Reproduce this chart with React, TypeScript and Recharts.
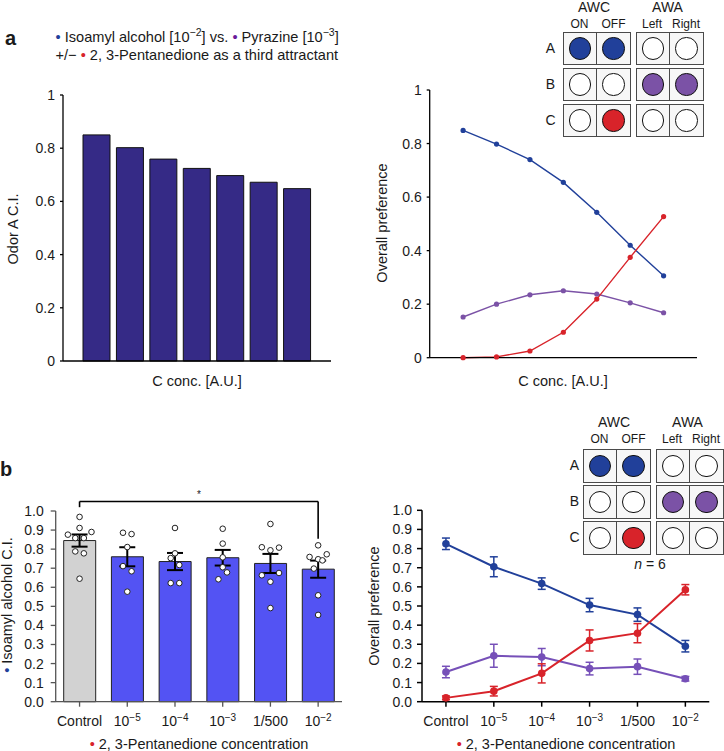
import {
  Bar,
  BarChart,
  ComposedChart,
  ErrorBar,
  Line,
  LineChart,
  ReferenceLine,
  Scatter,
  XAxis,
  YAxis,
} from "recharts";

const FONT = "'Liberation Sans', Arial, sans-serif";
const INK = "#1a1a1a";
const BLUE = "#21409a";
const PURPLE = "#7b52a6";
const RED = "#d8232a";

// panel a
const concSteps = ["1", "2", "3", "4", "5", "6", "7"];
const odorACI = [0.85, 0.802, 0.759, 0.724, 0.697, 0.672, 0.648];
const prefBlueA = [0.849, 0.798, 0.74, 0.655, 0.543, 0.42, 0.306];
const prefPurpleA = [0.152, 0.2, 0.235, 0.25, 0.238, 0.205, 0.168];
const prefRedA = [0, 0.003, 0.025, 0.095, 0.219, 0.375, 0.527];
const ticksA = [0, 0.2, 0.4, 0.6, 0.8, 1];

// panel b
const concLabels = ["Control", "10^−5", "10^−4", "10^−3", "1/500", "10^−2"];
const concIndex = [0, 1, 2, 3, 4, 5];
const isoamylMean = [0.845, 0.76, 0.735, 0.755, 0.725, 0.695];
const isoamylErr = [0.032, 0.05, 0.045, 0.041, 0.05, 0.045];
const ticksB = [0, 0.1, 0.2, 0.3, 0.4, 0.5, 0.6, 0.7, 0.8, 0.9, 1];
// [category + jitter, C.I.] for each animal group
const rawPoints = [
  [0, 0.969], [0, 0.911], [-0.245, 0.876], [0.25, 0.89], [-0.09, 0.858],
  [0.09, 0.858], [-0.09, 0.788], [0.09, 0.778], [0, 0.645],
  [0.91, 0.886], [1.09, 0.879], [1, 0.811], [0.91, 0.711], [1.09, 0.684], [1, 0.577],
  [2, 0.911], [2, 0.778], [1.91, 0.753], [2.09, 0.717], [1.91, 0.622], [2.09, 0.622],
  [3, 0.907], [3, 0.829], [3, 0.757], [3, 0.705], [3.09, 0.678], [2.91, 0.642],
  [4, 0.932], [3.82, 0.81], [4, 0.794], [4.18, 0.808], [3.82, 0.663],
  [4.18, 0.675], [4, 0.629], [4, 0.491],
  [5, 0.82], [4.82, 0.759], [5, 0.747], [5.09, 0.741], [5.18, 0.773],
  [4.91, 0.698], [5, 0.558], [5, 0.455],
];
const prefBlueB = [0.825, 0.705, 0.617, 0.505, 0.455, 0.29];
const prefBlueErr = [0.03, 0.052, 0.03, 0.035, 0.035, 0.03];
const prefPurpleB = [0.155, 0.24, 0.233, 0.173, 0.183, 0.12];
const prefPurpleErr = [0.03, 0.06, 0.045, 0.033, 0.04, 0.012];
const prefRedB = [0.02, 0.055, 0.148, 0.32, 0.358, 0.585];
const prefRedErr = [0.01, 0.025, 0.05, 0.055, 0.05, 0.027];

// schematic
const insetRows = ["A", "B", "C"];
const insetFill = [
  [BLUE, BLUE, "#fff", "#fff"],
  ["#fff", "#fff", PURPLE, PURPLE],
  ["#fff", RED, "#fff", "#fff"],
];

const barsA = concSteps.map((c, i) => ({ c, v: odorACI[i] }));
const linesA = concSteps.map((c, i) => ({
  c,
  blue: prefBlueA[i],
  purple: prefPurpleA[i],
  red: prefRedA[i],
}));
const barsB = concIndex.map((x, i) => ({
  x,
  mean: isoamylMean[i],
  err: isoamylErr[i],
  fill: i === 0 ? "#d2d2d2" : "#5353f3",
}));
const pointsB = rawPoints.map(([x, y]) => ({ x, y }));
const linesB = concIndex.map((x, i) => ({
  x,
  blue: prefBlueB[i],
  blueErr: prefBlueErr[i],
  purple: prefPurpleB[i],
  purpleErr: prefPurpleErr[i],
  red: prefRedB[i],
  redErr: prefRedErr[i],
}));

function ConcTick({ x, y, payload }: any) {
  const [base, exp] = concLabels[payload.value].split("^");
  return (
    <text x={x} y={y + 16} textAnchor="middle" fontSize={14} fill={INK}>
      {base}
      {exp && (
        <tspan dy={-5} fontSize={10}>
          {exp}
        </tspan>
      )}
    </text>
  );
}

function Dot({ cx, cy }: any) {
  return <circle cx={cx} cy={cy} r={2.8} fill="#fff" stroke="#222" strokeWidth={1} />;
}

function NoDot() {
  return <g />;
}

function ConcLabel({ x }: { x: number }) {
  return (
    <text x={x} y={279} textAnchor="middle" fontSize={14.5} fill={INK}>
      <tspan fill={RED}>• </tspan>2, 3-Pentanedione concentration
    </text>
  );
}

function Inset({
  left,
  top,
  labelTop,
  rowLabelX,
}: {
  left: number;
  top: number;
  labelTop: number;
  rowLabelX: number;
}) {
  const cell = (fill: string, key: number) => (
    <div
      key={key}
      style={{
        boxSizing: "border-box",
        width: 34.5,
        height: 33.5,
        marginLeft: key % 2 ? -1 : 0,
        background: "#f7f7f7",
        border: "1.2px solid #4a4a4a",
        display: "flex",
        alignItems: "center",
        justifyContent: "center",
      }}
    >
      <div
        style={{
          boxSizing: "border-box",
          width: 22.5,
          height: 22.5,
          borderRadius: "50%",
          background: fill,
          border: "1px solid #111",
        }}
      />
    </div>
  );
  const head = (text: string, x: number, y: number, size: number) => (
    <div
      style={{
        position: "absolute",
        left: x - 30,
        top: y,
        width: 60,
        textAlign: "center",
        fontSize: size,
        lineHeight: "14px",
        color: INK,
      }}
    >
      {text}
    </div>
  );
  return (
    <div style={{ position: "absolute", left, top }}>
      {head("AWC", 31.5, labelTop, 14)}
      {head("AWA", 105, labelTop, 14)}
      {head("ON", 17, labelTop + 17, 12)}
      {head("OFF", 51, labelTop + 17, 12)}
      {head("Left", 89.5, labelTop + 17, 12)}
      {head("Right", 123.5, labelTop + 17, 12)}
      {insetRows.map((row, r) => (
        <div key={row} style={{ position: "absolute", left: 0, top: r * 36, display: "flex" }}>
          <div
            style={{
              position: "absolute",
              left: rowLabelX - 8,
              width: 16,
              top: 8,
              textAlign: "center",
              fontSize: 14,
              lineHeight: "16px",
              color: INK,
            }}
          >
            {row}
          </div>
          {cell(insetFill[r][0], 0)}
          {cell(insetFill[r][1], 1)}
          <div style={{ width: 5 }} />
          {cell(insetFill[r][2], 2)}
          {cell(insetFill[r][3], 3)}
        </div>
      ))}
    </div>
  );
}

const box = (left: number, top: number) => ({ position: "absolute" as const, left, top });

export default function App() {
  return (
    <div
      style={{
        position: "absolute",
        left: 0,
        top: 0,
        width: 724,
        height: 751,
        overflow: "hidden",
        background: "#fff",
        fontFamily: FONT,
        color: INK,
      }}
    >
      <div style={{ ...box(5, 27), fontSize: 20, fontWeight: 700 }}>a</div>
      <div style={{ ...box(0, 458), fontSize: 20, fontWeight: 700 }}>b</div>
      <div style={{ ...box(55.5, 28), fontSize: 14.6, lineHeight: "18px", whiteSpace: "nowrap" }}>
        <div>
          <span style={{ color: BLUE }}>• </span>Isoamyl alcohol [10
          <sup style={{ fontSize: 10.5, lineHeight: 0 }}>−2</sup>] vs.{" "}
          <span style={{ color: "#6a1b9a" }}>• </span>Pyrazine [10
          <sup style={{ fontSize: 10.5, lineHeight: 0 }}>−3</sup>]
        </div>
        <div>
          +/− <span style={{ color: RED }}>• </span>2, 3-Pentanedione as a third attractant
        </div>
      </div>

      <div style={box(0, 70)}>
        <BarChart
          width={362}
          height={330}
          data={barsA}
          margin={{ top: 25, right: 31, bottom: 0, left: 0 }}
        >
          <XAxis
            dataKey="c"
            tick={false}
            tickLine={false}
            height={39}
            padding={{ left: 17, right: 17 }}
            stroke="#000"
            strokeWidth={1.3}
          />
          <YAxis
            width={63}
            domain={[0, 1]}
            ticks={ticksA}
            interval={0}
            tickSize={3}
            tickMargin={5}
            stroke="#000"
            strokeWidth={1.3}
            tick={{ fontSize: 14, fill: INK }}
          />
          <text x={197} y={316} textAnchor="middle" fontSize={14.5} fill={INK}>
            C conc. [A.U.]
          </text>
          <text
            transform="translate(18 159) rotate(-90)"
            textAnchor="middle"
            fontSize={14.5}
            fill={INK}
          >
            Odor A C.I.
          </text>
          <Bar
            dataKey="v"
            barSize={27}
            fill="#352a86"
            stroke="#111"
            strokeWidth={1}
            isAnimationActive={false}
          />
        </BarChart>
      </div>

      <div style={box(362, 70)}>
        <LineChart
          width={362}
          height={330}
          data={linesA}
          margin={{ top: 20, right: 27, bottom: 0, left: 0 }}
        >
          <XAxis
            dataKey="c"
            tick={false}
            tickLine={false}
            height={42.3}
            padding={{ left: 33.4, right: 33.4 }}
            stroke="#000"
            strokeWidth={1.3}
          />
          <YAxis
            width={67.7}
            domain={[0, 1]}
            ticks={ticksA}
            interval={0}
            tickSize={3}
            tickMargin={5}
            stroke="#000"
            strokeWidth={1.3}
            tick={{ fontSize: 14, fill: INK }}
          />
          <text x={201} y={316} textAnchor="middle" fontSize={14.5} fill={INK}>
            C conc. [A.U.]
          </text>
          <text
            transform="translate(25 153) rotate(-90)"
            textAnchor="middle"
            fontSize={14.5}
            fill={INK}
          >
            Overall preference
          </text>
          <Line dataKey="blue" stroke={BLUE} strokeWidth={1.4} dot={{ r: 2.6, fill: BLUE, strokeWidth: 0 }} isAnimationActive={false} />
          <Line dataKey="purple" stroke={PURPLE} strokeWidth={1.4} dot={{ r: 2.6, fill: PURPLE, strokeWidth: 0 }} isAnimationActive={false} />
          <Line dataKey="red" stroke={RED} strokeWidth={1.4} dot={{ r: 2.6, fill: RED, strokeWidth: 0 }} isAnimationActive={false} />
        </LineChart>
      </div>

      <div style={box(0, 470)}>
        <ComposedChart
          width={362}
          height={281}
          data={barsB}
          margin={{ top: 41, right: 20, bottom: 0, left: 0 }}
        >
          <XAxis
            dataKey="x"
            ticks={concIndex}
            interval={0}
            height={49.3}
            tickSize={5}
            tickMargin={3}
            stroke="#555"
            strokeWidth={1.3}
            tick={<ConcTick />}
          />
          <XAxis
            xAxisId="jitter"
            dataKey="x"
            type="number"
            domain={[-0.5, 5.5]}
            hide
          />
          <YAxis
            width={55.7}
            domain={[0, 1]}
            ticks={ticksB}
            interval={0}
            tickSize={5}
            tickMargin={7}
            tickFormatter={(v: number) => v.toFixed(1)}
            stroke="#555"
            strokeWidth={1.3}
            tick={{ fontSize: 14, fill: INK }}
          />
          <text
            transform="translate(12 135) rotate(-90)"
            textAnchor="middle"
            fontSize={14.5}
            fill={INK}
          >
            <tspan fill={BLUE}>• </tspan>Isoamyl alcohol C.I.
          </text>
          <text x={199} y={28} textAnchor="middle" fontSize={10} fill={INK}>
            *
          </text>
          <ConcLabel x={199} />
          <ReferenceLine
            xAxisId="jitter"
            segment={[{ x: 0, y: 1.05 }, { x: 5, y: 1.05 }]}
            ifOverflow="visible"
            stroke="#000"
            strokeWidth={1.6}
          />
          <ReferenceLine
            xAxisId="jitter"
            segment={[{ x: 0, y: 1.05 }, { x: 0, y: 1.02 }]}
            ifOverflow="visible"
            stroke="#000"
            strokeWidth={1.6}
          />
          <ReferenceLine
            xAxisId="jitter"
            segment={[{ x: 5, y: 1.05 }, { x: 5, y: 0.855 }]}
            ifOverflow="visible"
            stroke="#000"
            strokeWidth={1.6}
          />
          <Bar
            dataKey="mean"
            barSize={32}
            stroke="#222"
            strokeWidth={1}
            isAnimationActive={false}
          />
          <Scatter
            xAxisId="jitter"
            data={pointsB}
            dataKey="y"
            shape={<Dot />}
            isAnimationActive={false}
          />
          <Scatter dataKey="mean" shape={<NoDot />} isAnimationActive={false}>
            <ErrorBar dataKey="err" direction="y" width={8} stroke="#000" strokeWidth={2} isAnimationActive={false} />
          </Scatter>
        </ComposedChart>
      </div>

      <div style={box(362, 470)}>
        <ComposedChart
          width={362}
          height={281}
          data={linesB}
          margin={{ top: 40.3, right: 14.7, bottom: 0, left: 0 }}
        >
          <XAxis
            dataKey="x"
            type="number"
            domain={[-0.5, 5.5]}
            ticks={concIndex}
            interval={0}
            height={49.3}
            tickSize={5}
            tickMargin={3}
            stroke="#000"
            strokeWidth={1.5}
            tick={<ConcTick />}
          />
          <YAxis
            width={60}
            domain={[0, 1]}
            ticks={ticksB}
            interval={0}
            tickSize={5}
            tickMargin={5}
            tickFormatter={(v: number) => v.toFixed(1)}
            stroke="#000"
            strokeWidth={1.5}
            tick={{ fontSize: 14, fill: INK }}
          />
          <text
            transform="translate(17 136) rotate(-90)"
            textAnchor="middle"
            fontSize={14.5}
            fill={INK}
          >
            Overall preference
          </text>
          <ConcLabel x={204} />
          <Line dataKey="blue" stroke={BLUE} strokeWidth={2} dot={{ r: 3.8, fill: BLUE, strokeWidth: 0 }} isAnimationActive={false}>
            <ErrorBar dataKey="blueErr" width={4} stroke={BLUE} strokeWidth={1.5} isAnimationActive={false} />
          </Line>
          <Line dataKey="purple" stroke="#7650b8" strokeWidth={2} dot={{ r: 3.8, fill: "#7650b8", strokeWidth: 0 }} isAnimationActive={false}>
            <ErrorBar dataKey="purpleErr" width={4} stroke="#7650b8" strokeWidth={1.5} isAnimationActive={false} />
          </Line>
          <Line dataKey="red" stroke={RED} strokeWidth={2} dot={{ r: 3.8, fill: RED, strokeWidth: 0 }} isAnimationActive={false}>
            <ErrorBar dataKey="redErr" width={4} stroke={RED} strokeWidth={1.5} isAnimationActive={false} />
          </Line>
        </ComposedChart>
      </div>

      <Inset left={562.5} top={31.5} labelTop={-32} rowLabelX={-12} />
      <Inset left={582.5} top={449} labelTop={-34} rowLabelX={-8} />
      <div style={{ ...box(620, 556), width: 60, textAlign: "center", fontSize: 14 }}>
        <i>n</i> = 6
      </div>
    </div>
  );
}
